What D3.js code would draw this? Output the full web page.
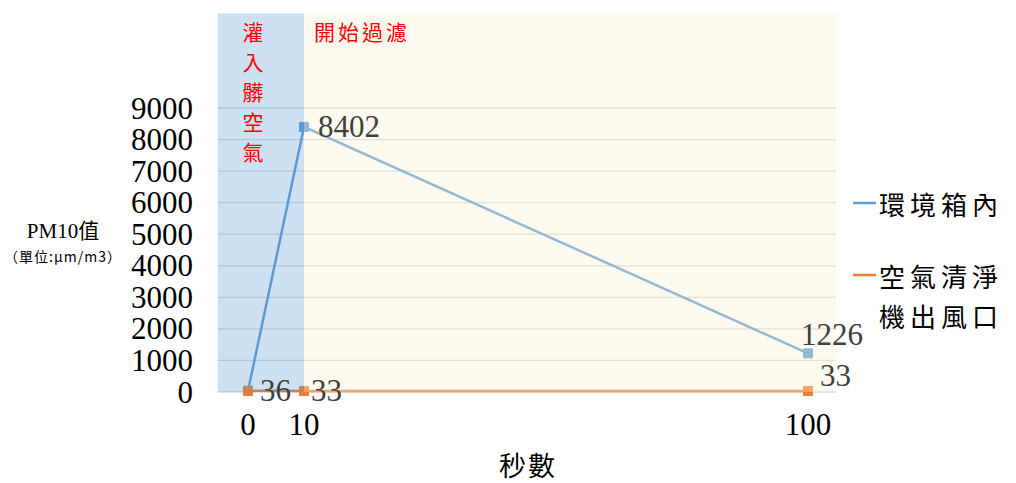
<!DOCTYPE html>
<html lang="zh-Hant">
<head>
<meta charset="UTF-8"/>
<title>PM10</title>
<script src="https://d3js.org/d3.v7.min.js"></script>
<style>
	body{ margin:0; background:#fff; }
	.num{ font-family:"Liberation Serif", "DejaVu Serif", serif; }
	.cjk{ font-family:"Noto Sans CJK TC", "Noto Sans CJK SC", sans-serif; }
</style>
</head>
<body>
<script>
// data
var seconds = [0, 10, 100];
var boxInside = [36, 8402, 1226];      // 環境箱內
var purifierOut = [36, 33, 33];        // 空氣清淨機出風口
var seriesNames = ["環境箱內", "空氣清淨機出風口"];
var yTicks = [0, 1000, 2000, 3000, 4000, 5000, 6000, 7000, 8000, 9000];
var xTicks = [0, 10, 100];
// shaded phases, in data units (seconds)
var phaseLabels = ["灌入髒空氣", "開始過濾"];
var phaseFrom = [-5.4, 10];
var phaseTo = [10, 105];
var shadeTop = 12000;

var w = 1016, h = 483;
var x = d3.scaleLinear().domain([0, 100]).range([248, 808]);
var y = d3.scaleLinear().domain([0, 9000]).range([392, 108]);

var svg = d3.select("body").append("svg")
	.attr("width", w).attr("height", h);

// gridlines
svg.selectAll("line.grid")
	.data(yTicks)
	.enter().append("line")
	.attr("class", "grid")
	.attr("x1", x(phaseFrom[0])).attr("x2", x(phaseTo[1]))
	.attr("y1", d => y(d)).attr("y2", d => y(d))
	.style("stroke", "#d9d9d9").style("stroke-width", 1.3);

// lines
var blue = "#5b9bd5", orange = "#ed7d31";
var line = d3.line().x(d => x(d[0])).y(d => y(d[1]));
var series = [
	{name: seriesNames[0], color: blue, pts: seconds.map((s, i) => [s, boxInside[i]])},
	{name: seriesNames[1], color: orange, pts: seconds.map((s, i) => [s, purifierOut[i]])}
];
series.forEach(function(s){
	svg.append("path")
		.attr("d", line(s.pts))
		.style("fill", "none")
		.style("stroke", s.color)
		.style("stroke-width", 2.5);
	svg.selectAll(null)
		.data(s.pts)
		.enter().append("path")
		.attr("d", d3.symbol(d3.symbolSquare, 100))
		.attr("transform", d => "translate(" + x(d[0]) + "," + y(d[1]) + ")")
		.style("fill", s.color);
});

// phase overlays (semi-transparent, on top like the original)
var phaseColors = ["#5b9bd5", "#fff0d0"];
var phaseOpacity = [0.3, 0.35];
svg.selectAll("rect.phase")
	.data(phaseFrom)
	.enter().append("rect")
	.attr("class", "phase")
	.attr("x", d => x(d))
	.attr("width", (d, i) => x(phaseTo[i]) - x(d))
	.attr("y", y(shadeTop))
	.attr("height", y(0) - y(shadeTop))
	.style("fill", (d, i) => phaseColors[i])
	.style("opacity", (d, i) => phaseOpacity[i]);

// phase labels
var p0x = (x(phaseFrom[0]) + x(phaseTo[0])) / 2;
svg.selectAll("text.vphase")
	.data(phaseLabels[0].split(""))
	.enter().append("text")
	.attr("class", "cjk")
	.attr("x", p0x - 8)
	.attr("y", (d, i) => 40 + i * 30)
	.attr("text-anchor", "middle")
	.style("font-size", "21px")
	.style("fill", "#ff0000")
	.text(d => d);
svg.append("text")
	.attr("class", "cjk")
	.attr("x", x(phaseFrom[1]) + 10)
	.attr("y", 40)
	.style("font-size", "21px")
	.style("letter-spacing", "3px")
	.style("fill", "#ff0000")
	.text(phaseLabels[1]);

// y axis labels
svg.selectAll("text.ytick")
	.data(yTicks)
	.enter().append("text")
	.attr("class", "num")
	.attr("x", 193)
	.attr("y", d => y(d))
	.attr("dy", "0.34em")
	.attr("text-anchor", "end")
	.style("font-size", "31px")
	.text(d => d);

// x axis labels
svg.selectAll("text.xtick")
	.data(xTicks)
	.enter().append("text")
	.attr("class", "num")
	.attr("x", d => x(d))
	.attr("y", 435)
	.attr("text-anchor", "middle")
	.style("font-size", "31px")
	.text(d => d);

// data labels
var labelStyle = function(sel){
	sel.attr("class", "num").style("font-size", "31px").style("fill", "#404040");
};
svg.append("text").call(labelStyle)
	.attr("x", x(seconds[0]) + 12).attr("y", y(boxInside[0])).attr("dy", "0.34em")
	.text(boxInside[0]);
svg.append("text").call(labelStyle)
	.attr("x", x(seconds[1]) + 14).attr("y", y(boxInside[1])).attr("dy", "0.34em")
	.text(boxInside[1]);
svg.append("text").call(labelStyle)
	.attr("x", x(seconds[2]) - 7).attr("y", y(boxInside[2]) - 8)
	.text(boxInside[2]);
svg.append("text").call(labelStyle)
	.attr("x", x(seconds[1]) + 7).attr("y", y(purifierOut[1])).attr("dy", "0.34em")
	.text(purifierOut[1]);
svg.append("text").call(labelStyle)
	.attr("x", x(seconds[2]) + 12).attr("y", y(purifierOut[2]) - 5)
	.text(purifierOut[2]);

// axis titles
svg.append("text")
	.attr("x", 63).attr("y", 238)
	.attr("text-anchor", "middle")
	.style("font-family", "'Liberation Serif', 'Noto Sans CJK TC', serif")
	.style("font-size", "21px")
	.text("PM10值");
svg.append("text")
	.attr("class", "cjk")
	.attr("x", 63).attr("y", 262)
	.attr("text-anchor", "middle")
	.style("font-size", "14px")
	.style("letter-spacing", "1px")
	.text("（單位:μm/m3）");
svg.append("text")
	.attr("class", "cjk")
	.attr("x", 528).attr("y", 476)
	.attr("text-anchor", "middle")
	.style("font-size", "27px")
	.style("letter-spacing", "2px")
	.text("秒數");

// legend
var legendRows = [
	{color: blue, lines: [seriesNames[0]], y: 203},
	{color: orange, lines: ["空氣清淨", "機出風口"], y: 275}
];
legendRows.forEach(function(r){
	svg.append("line")
		.attr("x1", 853).attr("x2", 876)
		.attr("y1", r.y).attr("y2", r.y)
		.style("stroke", r.color).style("stroke-width", 2.5);
	r.lines.forEach(function(t, i){
		svg.append("text")
			.attr("class", "cjk")
			.attr("x", 879)
			.attr("y", r.y + 12 + i * 40)
			.style("font-size", "26px")
			.style("letter-spacing", "5px")
			.text(t);
	});
});
</script>
</body>
</html>
